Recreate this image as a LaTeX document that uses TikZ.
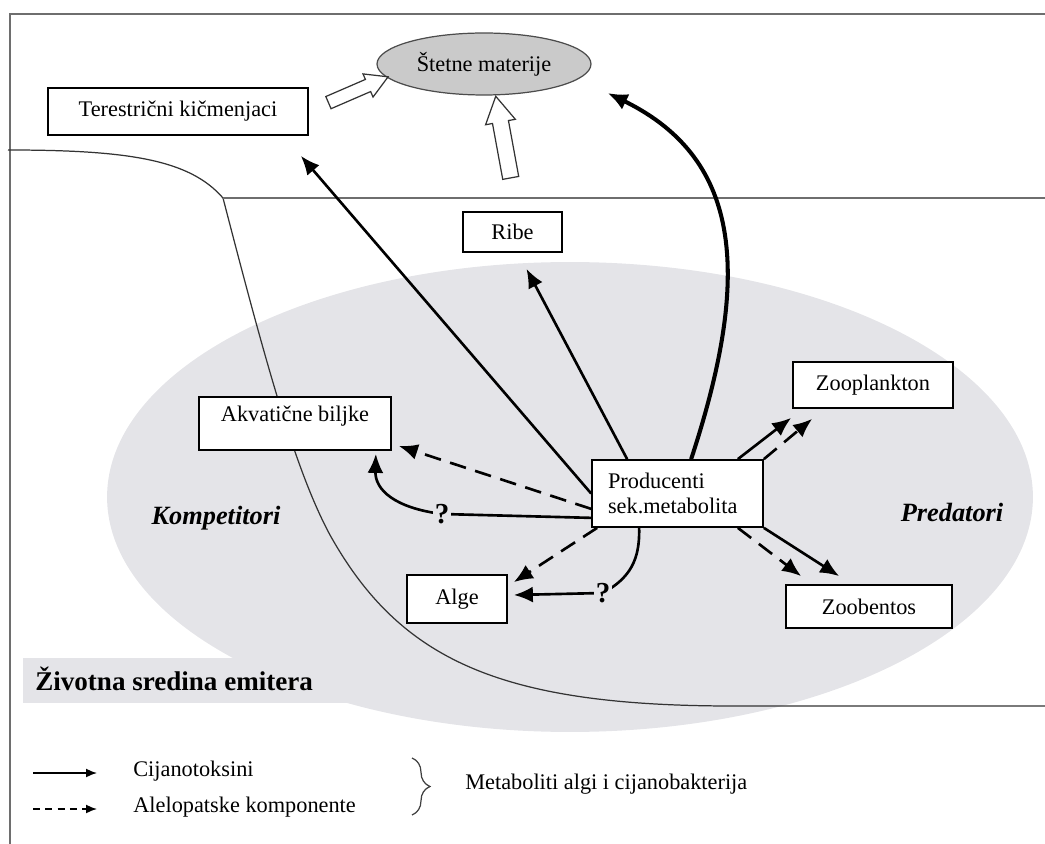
\documentclass[tikz,border=0pt]{standalone}
\usepackage{fontspec}
\setmainfont{Liberation Serif}
\usepackage{tikz}
\usetikzlibrary{shapes.geometric, shapes.arrows, arrows.meta, calc, decorations.pathreplacing}
\definecolor{watergray}{RGB}{228,228,232}
\definecolor{toxgray}{RGB}{202,202,202}
\definecolor{framegray}{RGB}{110,110,110}
\newcommand{\boxfont}{\fontsize{12.7}{14.2}\selectfont}
\newcommand{\grpfont}{\fontsize{15}{17}\selectfont\bfseries\itshape}
\newcommand{\qfont}{\fontsize{16.5}{18}\selectfont\bfseries}
\newcommand{\envfont}{\fontsize{15.4}{17}\selectfont\bfseries}
\tikzstyle{box} = [rectangle, draw=black, line width=1pt, fill=white, font=\boxfont, inner sep=3pt, text centered]
\tikzstyle{toxic} = [ellipse, draw=black!70, line width=0.7pt, fill=toxgray, font=\boxfont, minimum width=4.28cm, minimum height=1.24cm, inner sep=0pt]
\tikzstyle{hollow} = [single arrow, draw=black!80, line width=0.7pt, fill=white, single arrow tip angle=60, single arrow head indent=0cm, inner xsep=0pt]
\tikzstyle{line} = [draw, line width=1.5pt, -{Latex[length=0.38cm,width=0.32cm]}]
\tikzstyle{dline} = [line, dash pattern=on 9.5pt off 5.5pt]
\tikzstyle{thickline} = [draw, line width=2.3pt, -{Latex[length=0.4cm,width=0.34cm]}]
\tikzstyle{qmark} = [fill=watergray, inner sep=1pt, font=\qfont]
\tikzstyle{grp} = [font=\grpfont]
\tikzstyle{shore} = [draw=black!80, line width=0.7pt]
\tikzstyle{legline} = [draw, line width=0.9pt, -{Latex[length=0.22cm,width=0.18cm]}]

\begin{document}
\begin{tikzpicture}[x=0.02cm, y=-0.02cm]
    \useasboundingbox (0,0) rectangle (1045,844);
    % Background
    \fill[watergray] (23,658) rectangle (360,703);
    \fill[watergray] (570,497) ellipse [x radius=9.26cm, y radius=4.7cm];
    \draw[framegray, line width=1pt] (1045,14) -- (10,14) -- (10,844);
    \draw[shore] (8,150) .. controls (130,150) and (190,160) .. (223,198)
        .. controls (265,360) and (295,470) .. (330,535)
        .. controls (400,660) and (500,706) .. (733,706) -- (1045,706);
    \draw[framegray, line width=1pt] (223,198) -- (1045,198);

    % Nodes
    \node [toxic] (stetne) at (484,64) {Štetne materije};
    \node [box, minimum width=5.2cm, minimum height=0.94cm] (terest) at (178,111.5) {Terestrični kičmenjaci};
    \node [box, minimum width=1.98cm, minimum height=0.8cm] (ribe) at (512.5,232) {Ribe};
    \node [box, minimum width=3.84cm, text height=11.2pt, text depth=13pt] (akvat) at (295,423.5) {Akvatične biljke};
    \node [box, text width=2.78cm, align=left, inner xsep=0.32cm, minimum height=1.34cm] (prod) at (677.5,493.5) {Producenti\\sek.metabolita};
    \node [box, minimum width=2cm, minimum height=0.96cm] (alge) at (457,599) {Alge};
    \node [box, minimum width=3.2cm, minimum height=0.92cm] (zoopl) at (873,385) {Zooplankton};
    \node [box, minimum width=3.32cm, minimum height=0.86cm] (zoob) at (869,606.5) {Zoobentos};
    \node [grp] (komp) at (216,518) {Kompetitori};
    \node [grp] (pred) at (952,512) {Predatori};
    \node [font=\envfont, anchor=west, inner sep=0pt] (env) at (35,679) {Životna sredina emitera};

    \node [hollow, minimum height=1.3cm, inner ysep=0.12cm, single arrow head extend=0.12cm, rotate=23.4] (tostet1) at (353,92) {};
    \node [hollow, minimum height=1.66cm, inner ysep=0.15cm, single arrow head extend=0.14cm, rotate=100.4] (tostet2) at (504.5,144) {};

    % Edges
    \path [line] (prod.west) -- ($(terest.south east)+(-8,20)$);
    \path [line] ($(prod.north west)+(36,0)$) -- ($(ribe.south)+(14,16)$);
    \path [thickline] ($(prod.north west)+(100,0)$) .. controls (750,280) and (745,160) .. ($(stetne.east)+(16,29)$);
    \path [line] ($(prod.north east)+(-26,0)$) -- ($(zoopl.south west)+(-1,9)$);
    \path [dline] (prod.north east) -- ($(zoopl.south west)+(20,10)$);
    \path [dline] ($(prod.south east)+(-26,0)$) -- ($(zoob.north west)+(16,-8)$);
    \path [line] (prod.south east) -- ($(zoob.north west)+(54,-8)$);
    \path [dline] ($(prod.south west)+(0,-19)$) -- ($(akvat.south east)+(7,-5)$);
    \path [line] ($(prod.south west)+(0,-10)$) -- (442,514) node [qmark] (q1) {?}
        .. controls (395,508) and (375,490) .. ($(akvat.south east)+(-16,3)$);
    \path [dline] ($(prod.south west)+(6,0)$) -- ($(alge.north east)+(6,8)$);
    \path [line] ($(prod.south west)+(48,0)$) .. controls (640,560) and (630,578) .. (603,593) node [qmark] (q2) {?}
        -- ($(alge.east)+(6,-4)$);

    % Legend
    \coordinate (ls1) at (33,773);
    \coordinate (le1) at (97,773);
    \coordinate (ls2) at (33,809);
    \coordinate (le2) at (97,809);
    \path [legline] (ls1) -- (le1);
    \path [legline, dash pattern=on 4pt off 3pt] (ls2) -- (le2);
    \node [font=\boxfont, anchor=west, inner sep=0pt] (cijan) at (133,771) {Cijanotoksini};
    \node [font=\boxfont, anchor=west, inner sep=0pt] (alelo) at (133,807) {Alelopatske komponente};
    \draw [decorate, decoration={brace, amplitude=0.36cm}, line width=0.7pt, black!75] (412,758) -- (412,815);
    \node [font=\boxfont, anchor=west, inner sep=0pt] (metab) at (465,784) {Metaboliti algi i cijanobakterija};
\end{tikzpicture}
\end{document}
